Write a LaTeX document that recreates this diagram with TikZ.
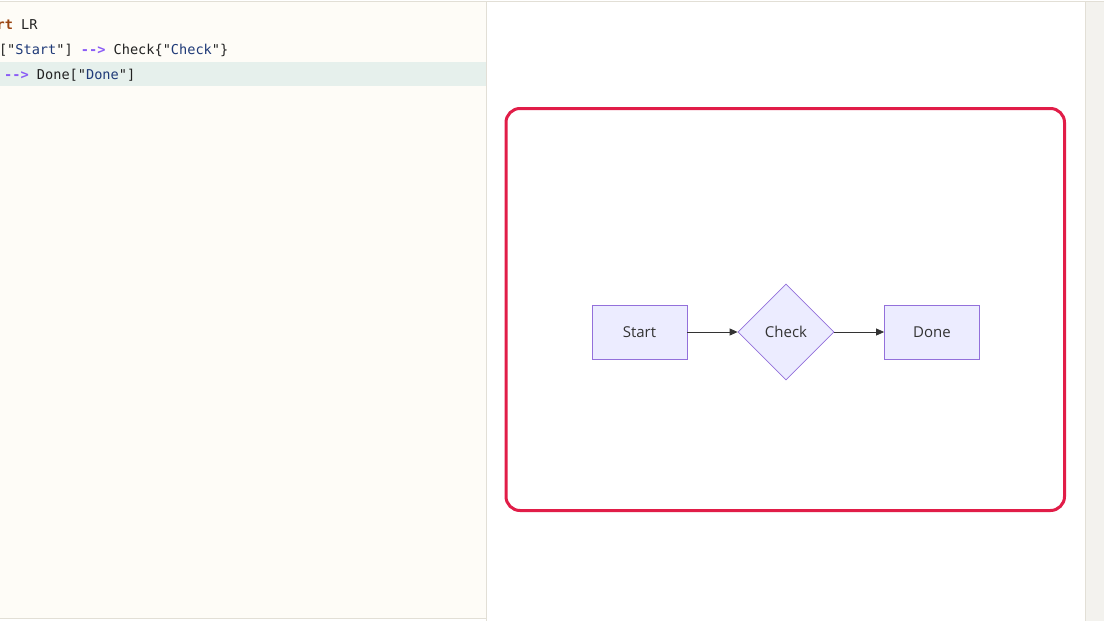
\documentclass[tikz,border=0pt]{standalone}
\usepackage{fontspec}
\setmainfont{Open Sans}
\newfontfamily\codefont{DejaVu Sans Mono}
\usetikzlibrary{shapes.geometric,arrows.meta}
\definecolor{panel}{HTML}{FEFCF7}
\definecolor{hl}{HTML}{E6F0EC}
\definecolor{rule}{HTML}{E2DFD6}
\definecolor{strip}{HTML}{F3F2EE}
\definecolor{kw}{HTML}{9A4512}
\definecolor{str}{HTML}{1F3A78}
\definecolor{arr}{HTML}{8B5CF6}
\definecolor{codetxt}{HTML}{222222}
\definecolor{mfill}{HTML}{ECECFF}
\definecolor{mstroke}{HTML}{9370DB}
\definecolor{mtext}{HTML}{333333}
\definecolor{frame}{HTML}{E11D48}
\tikzset{
  codeline/.style={anchor=base west, inner sep=0pt, font=\codefont\fontsize{13.6}{16}\selectfont, text=codetxt},
  procbox/.style={draw=mstroke, fill=mfill, line width=0.8pt, minimum width=95pt, minimum height=54pt, inner sep=0pt, text=mtext, font=\fontsize{15}{18}\selectfont},
  decision/.style={diamond, draw=mstroke, fill=mfill, line width=0.8pt, minimum width=96pt, minimum height=96pt, inner sep=0pt, text=mtext, font=\fontsize{15}{18}\selectfont},
  flowarrow/.style={draw=mtext, line width=0.8pt, -{Triangle[length=8pt,width=7pt]}},
}
\begin{document}
\begin{tikzpicture}[x=1pt,y=-1pt]
\useasboundingbox (0,0) rectangle (1104,621);
% panels
\fill[white] (0,0) rectangle (1104,621);
\fill[panel] (0,1) rectangle (486,618.5);
\fill[hl] (0,62) rectangle (486,86);
\fill[strip] (1085.5,1) rectangle (1104,621);
\draw[rule, line width=1pt] (0,1) -- (1104,1);
\draw[rule, line width=1pt] (0,618.5) -- (486,618.5);
\draw[rule, line width=1pt] (486.5,1) -- (486.5,621);
\draw[rule, line width=1pt] (1085.5,1) -- (1085.5,621);
% code
\node[codeline] (c1) at (-3.6,30) {\textcolor{kw}{\bfseries rt} LR};
\node[codeline] (c2) at (-1.2,54) {["\textcolor{str}{Start}"] \textcolor{arr}{\bfseries -{}->} Check\{"\textcolor{str}{Check}"\}};
\node[codeline] (c3) at (4,79) {\textcolor{arr}{\bfseries -{}->} Done["\textcolor{str}{Done}"]};
% frame
\draw[frame, line width=3pt, rounded corners=14pt] (506,108.5) rectangle (1064.5,510.5);
% diagram
\node[procbox] (start) at (639.5,332) {Start};
\node[decision] (check) at (786,332) {Check};
\node[procbox] (done) at (932,332) {Done};
\draw[flowarrow] (start) -- (check);
\draw[flowarrow] (check) -- (done);
\end{tikzpicture}
\end{document}
